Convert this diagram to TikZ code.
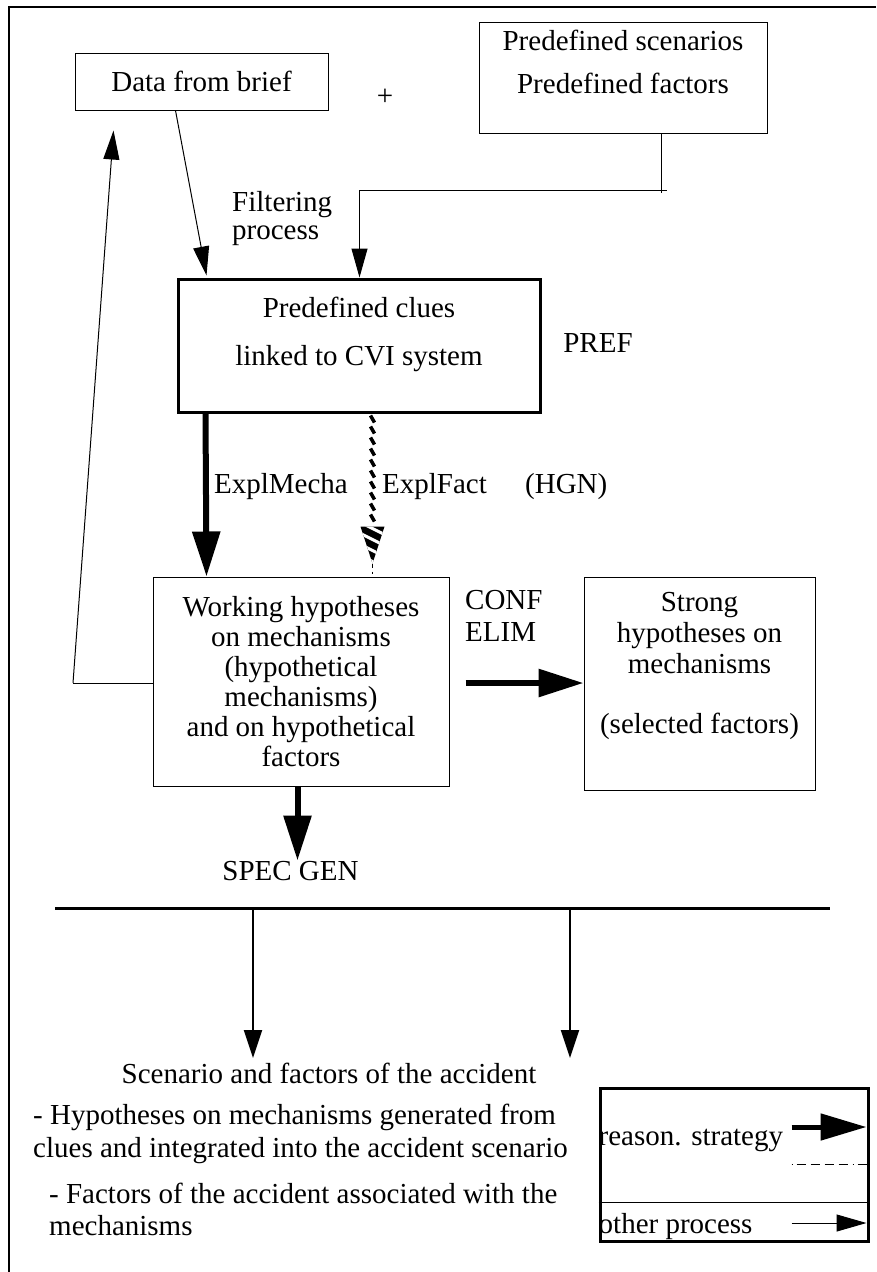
\documentclass[tikz,border=0pt]{standalone}
\usepackage{fontspec}
\setmainfont{Liberation Serif}
\usetikzlibrary{arrows.meta,calc}
\tikzset{
  txt/.style={font=\fontsize{29}{32}\selectfont, inner sep=0pt, align=center},
  box/.style={draw, line width=1pt, inner sep=0pt, font=\fontsize{29}{32}\selectfont, align=center},
  thickbox/.style={box, line width=3pt},
  thinarrow/.style={line width=1pt, -{Triangle[width=16pt,length=29pt]}},
  medarrow/.style={line width=2pt, -{Triangle[width=18pt,length=28pt]}},
  bigarrow/.style={line width=6pt, -{Triangle[width=27pt,length=45pt]}},
}
\begin{document}
\begin{tikzpicture}[x=1pt,y=-1pt]
\useasboundingbox (0,0) rectangle (876,1272);
% frame
\draw[line width=1.5pt] (9,1272) -- (9,7) -- (876,7);

% boxes
\node[box, minimum width=253pt, minimum height=57pt] (data) at (201.5,81.5) {Data from brief};
\node[txt] (plus) at (385,97) {+};
\node[box, minimum width=288pt, minimum height=111pt] (pre) at (623,77.5) {};
\node[txt, font=\fontsize{29}{43}\selectfont] (pretxt) at (623,61.5) {Predefined scenarios\\Predefined factors};
\node[thickbox, minimum width=362pt, minimum height=133pt] (clue) at (359,345.5) {};
\node[txt, font=\fontsize{29}{48}\selectfont] (cluetxt) at (359,334) {Predefined clues\\linked to CVI system};
\node[txt] (pref) at (598,343) {PREF};
\node[txt, align=left, anchor=west, font=\fontsize{29}{28}\selectfont] (filt) at (232,219) {Filtering\\process};

\node[box, minimum width=296pt, minimum height=209pt, font=\fontsize{29}{30}\selectfont] (work) at (301,681.5) {Working hypotheses\\on mechanisms\\(hypothetical\\mechanisms)\\and on hypothetical\\factors};
\node[box, minimum width=231pt, minimum height=213pt] (strong) at (699.5,683.5) {};
\node[txt, font=\fontsize{29}{31}\selectfont] (strongtxt) at (699.5,666) {Strong\\hypotheses on\\mechanisms\\[29pt](selected factors)};
\node[txt, align=left, anchor=west] (conf) at (465,616) {CONF\\ELIM};

\node[txt, anchor=east] (expm) at (348,487) {ExplMecha};
\node[txt, anchor=west] (expf) at (382,487) {ExplFact};
\node[txt, anchor=west] (hgn) at (525,487) {(HGN)};
\node[txt] (spec) at (290.5,871) {SPEC GEN};

% connectors top
\coordinate (dstart) at ($(data.south west)+(101,0)$);
\coordinate (cin1) at ($(clue.north west)+(30,-2)$);
\draw[thinarrow] (dstart) -- (cin1);
\coordinate (pdown) at ($(pre.south west)+(183,0)$);
\coordinate (pturn) at ($(pre.south west)+(183,57)$);
\coordinate (pjoin) at ($(pre.south west)+(188,57)$);
\draw[line width=1pt] (pdown) -- ($(pturn)+(0,2)$);
\draw[thinarrow] (pjoin) -| ($(clue.north west)+(183,0)$);

% feedback
\coordinate (fb) at (73,683);
\draw[line width=1pt] (work.west |- fb) -- (fb);
\draw[thinarrow] (fb) -- ($(data.south west)+(39,20)$);

% thick arrows
\draw[bigarrow] ($(clue.south west)+(29,0)$) -- ($(work.north west)+(54,0)$);
\coordinate (wr) at ($(work.east)+(16,1.5)$);
\draw[bigarrow] (wr) -- (strong.west |- wr);
\draw[bigarrow] ($(work.south west)+(145,0)$) -- ($(work.south west)+(145,74)$);

% hatched arrow
\coordinate (hs) at ($(clue.south west)+(196,0)$);
\foreach \dy in {2,13,...,102} {
  \draw[line width=3.5pt] ($(hs)+(-2,\dy)$) -- ($(hs)+(2,\dy+7)$);
}
\coordinate (ha) at ($(hs)+(-12,113)$);
\coordinate (hb) at ($(hs)+(12,113)$);
\coordinate (hc) at ($(hs)+(0,150)$);
\fill (ha) -- (hb) -- (hc) -- cycle;
\begin{scope}
  \clip (ha) -- (hb) -- (hc) -- cycle;
  \foreach \dy in {112,123,...,156} {
    \draw[white, line width=3pt] ($(hs)+(-16,\dy-5)$) -- ($(hs)+(16,\dy+11)$);
  }
\end{scope}
\draw[line width=1.5pt, dash pattern=on 4pt off 4pt] (hc) -- ($(work.north west)+(220,-3)$);

% bottom bar
\draw[line width=3pt] (55,908) coordinate (barl) -- (830,908) coordinate (barr);
\draw[medarrow] ($(barl)+(198,0)$) -- ($(barl)+(198,150)$);
\draw[medarrow] ($(barl)+(515,0)$) -- ($(barl)+(515,150)$);

\node[txt] (scen) at (329,1073) {Scenario and factors of the accident};
\node[txt, align=left, anchor=west, font=\fontsize{29}{33}\selectfont] (hyp) at (33,1133.5) {- Hypotheses on mechanisms generated from\\clues and integrated into the accident scenario};
\node[txt, align=left, anchor=west, font=\fontsize{29}{32}\selectfont] (fac) at (49,1209) {- Factors of the accident associated with the\\mechanisms};

% legend
\node[draw, line width=3pt, minimum width=268pt, minimum height=153pt, inner sep=0pt] (leg) at (734,1164.5) {};
\draw[line width=1pt] ($(leg.west)+(0,37.5)$) -- ($(leg.east)+(0,37.5)$);
\node[txt, anchor=west] (rs) at ($(leg.west)+(0,-24.5)$) {reason. strategy};
\node[txt, anchor=west] (op) at ($(leg.west)+(0,62.5)$) {other process};
\draw[line width=5pt, -{Triangle[width=26pt,length=46pt]}] ($(leg.east)+(-78,-37.5)$) -- ($(leg.east)+(-3,-37.5)$);
\draw[line width=1pt, dash pattern=on 1pt off 4pt on 9pt off 5pt on 9pt off 5pt on 9pt off 5pt on 9pt off 5pt] ($(leg.east)+(-78,-0.5)$) -- ($(leg.east)+(0,-0.5)$);
\draw[line width=1pt, -{Triangle[width=17pt,length=30pt]}] ($(leg.east)+(-78,58.5)$) -- ($(leg.east)+(-3,58.5)$);
\end{tikzpicture}
\end{document}
